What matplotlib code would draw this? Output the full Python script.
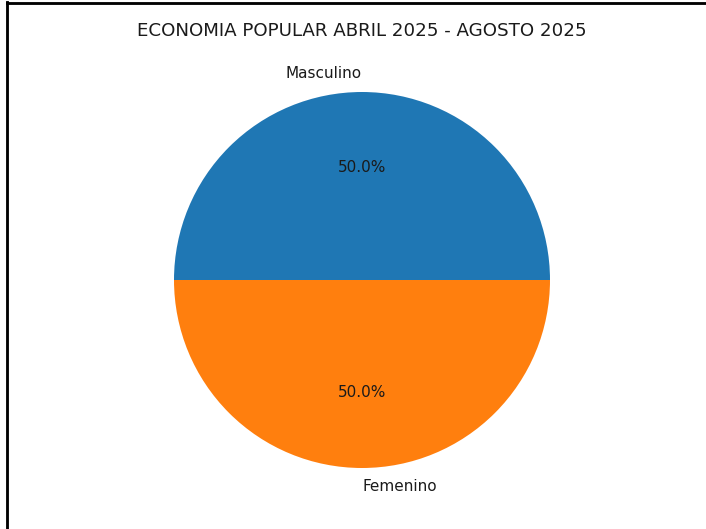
import matplotlib
matplotlib.use("Agg")
import matplotlib.pyplot as plt
from matplotlib.lines import Line2D

labels = ["Masculino", "Femenino"]
values = [50, 50]
title = "ECONOMIA POPULAR ABRIL 2025 - AGOSTO 2025"

dpi = 127.5
W, H = 706, 529
fig = plt.figure(figsize=(W / dpi, H / dpi), dpi=dpi)
ax = fig.add_axes([127 / W, 14 / H, 470 / W, 470 / H])
ax.pie(values, labels=labels, autopct='%1.1f%%',
       textprops={'fontsize': 8.6, 'color': '#1a1a1a'})
ax.set_title(title, fontsize=10.3, color='#1a1a1a', pad=5.0)

# screenshot border (left and top)
fig.add_artist(Line2D([7 / W, 7 / W], [0, 1 - 2 / H], color='black', lw=1.6, transform=fig.transFigure))
fig.add_artist(Line2D([7 / W, 1], [1 - 3 / H, 1 - 3 / H], color='black', lw=1.6, transform=fig.transFigure))

fig.savefig("out.png", dpi=dpi)
